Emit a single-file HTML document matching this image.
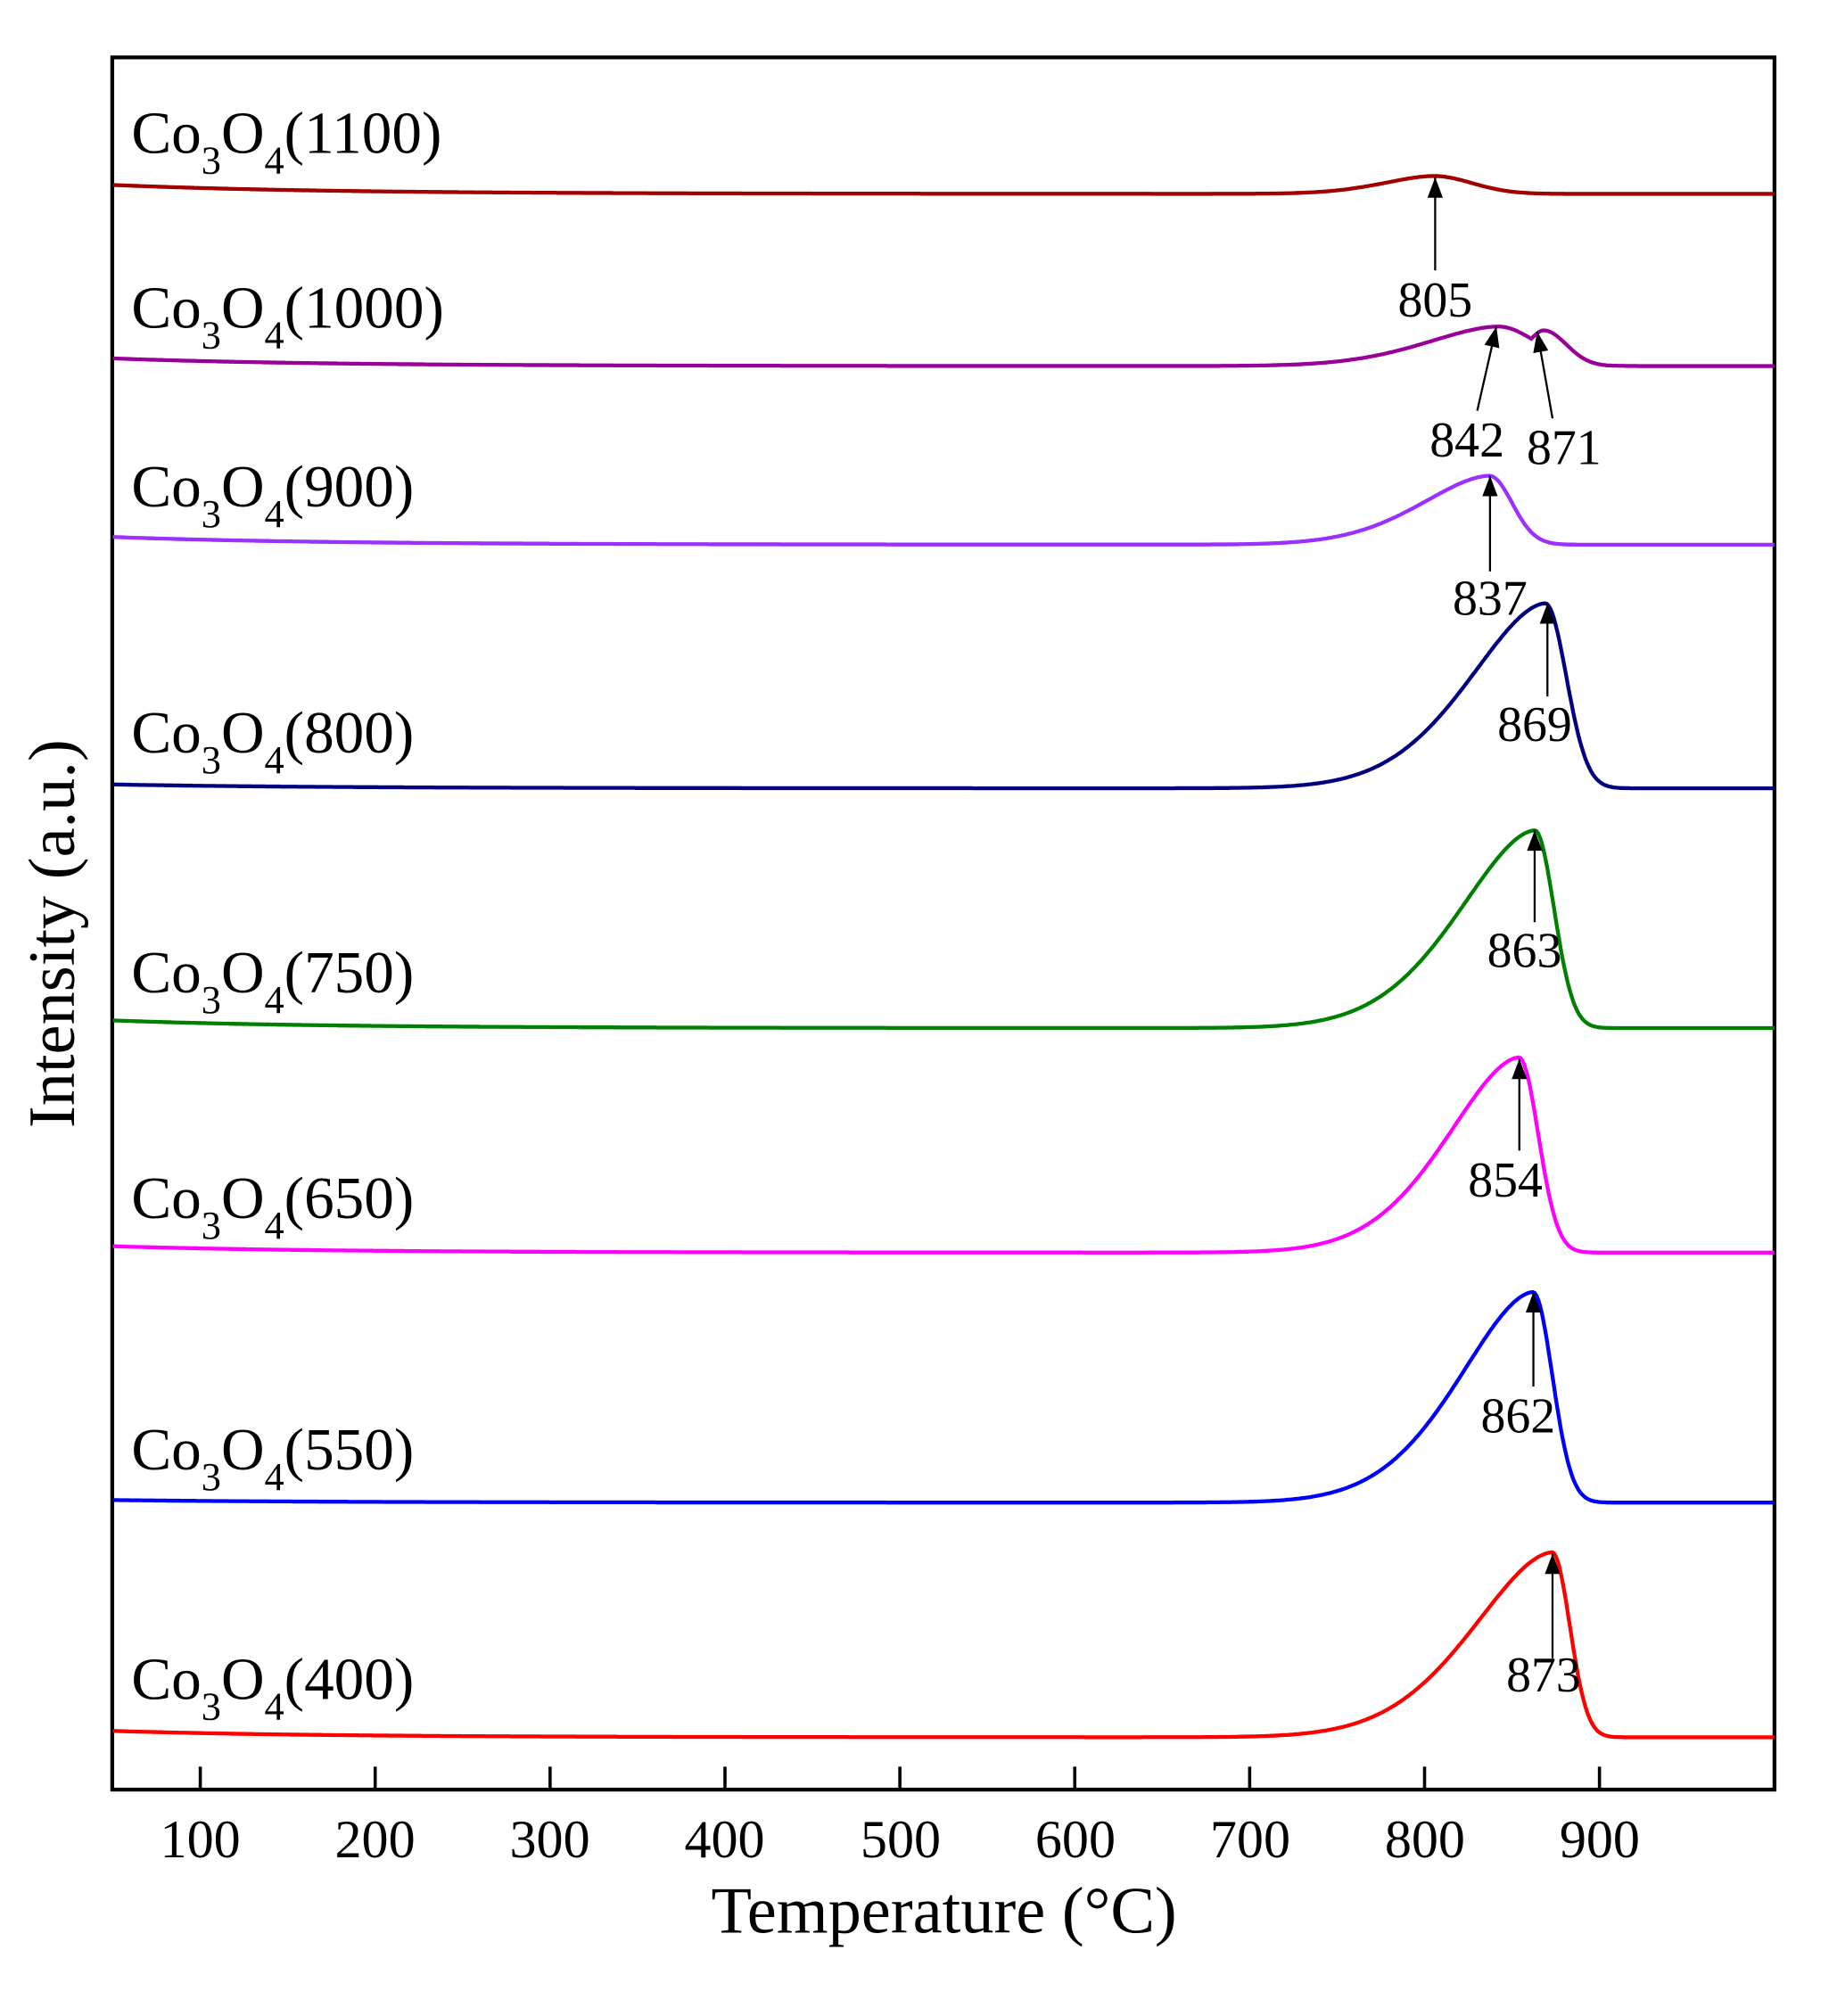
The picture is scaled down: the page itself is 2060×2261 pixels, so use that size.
<!DOCTYPE html>
<html><head><meta charset="utf-8"><style>html,body{margin:0;padding:0;background:#fff}svg{display:block}text{font-family:"Liberation Serif",serif;fill:#000}</style></head>
<body>
<svg id="s" width="2060" height="2261" viewBox="0 0 1440 1580.5" preserveAspectRatio="none" xmlns="http://www.w3.org/2000/svg">
<rect x="88" y="45" width="1303" height="1358" fill="none" stroke="#000" stroke-width="3"/>
<g id="ticks" stroke="#000" stroke-width="2.5"></g>
<g font-size="42" text-anchor="middle">
<text x="157" y="1456">100</text><text x="294" y="1456">200</text><text x="431" y="1456">300</text><text x="568" y="1456">400</text><text x="706" y="1456">500</text><text x="843" y="1456">600</text><text x="980" y="1456">700</text><text x="1117" y="1456">800</text><text x="1254" y="1456">900</text>
</g>
<text x="740" y="1515" font-size="52" text-anchor="middle">Temperature (°C)</text>
<text transform="translate(58,732) rotate(-90)" font-size="52" text-anchor="middle">Intensity (a.u.)</text>
<g id="curves" fill="none" stroke-width="3"></g>
<g font-size="47" id="labels"></g>
<g stroke="#000" stroke-width="1.6" id="arrows"></g>
<g font-size="39" text-anchor="middle">
<text x="1125" y="248">805</text>
<text x="1150" y="358">842</text><text x="1226" y="364">871</text>
<text x="1168" y="482">837</text>
<text x="1203" y="581">869</text>
<text x="1195" y="758">863</text>
<text x="1180" y="938">854</text>
<text x="1190" y="1123">862</text>
<text x="1210" y="1326">873</text>
</g>
</svg>
<script>
var NS="http://www.w3.org/2000/svg";
function X(T){return 157+(T-100)*1.371;}
var tk=document.getElementById("ticks");
for(var t=100;t<=900;t+=100){var l=document.createElementNS(NS,"line");l.setAttribute("x1",X(t));l.setAttribute("x2",X(t));l.setAttribute("y1",1403);l.setAttribute("y2",1385);tk.appendChild(l);}
var S=[
["1100","#a00000",145,152,[[805,14,28,22]],120],
["1000","#990099",281,287,[[842,31,40,22],[868,28,10,13]],257],
["900","#9b30ff",421,427,[[837,54,38,13]],397],
["800","#000080",615,618,[[869,145,42,12]],590],
["750","#008000",800,806,[[863,155,42,11]],778],
["650","#ff00ff",977,982,[[854,153,40,11]],955],
["550","#0000ff",1176,1178,[[862,165,41,11]],1152],
["400","#ff0000",1357,1362,[[873,145,44,10]],1332]];
var cg=document.getElementById("curves"),lg=document.getElementById("labels");
S.forEach(function(s){
 var d="";
 for(var T=50;T<=1000;T+=1){
  var y=s[3]+(s[2]-s[3])*Math.exp(-(T-50)/120);
  var sum=0;
  s[4].forEach(function(p){var sg=T<p[0]?p[2]:p[3];var z=Math.abs(T-p[0])/sg;var e=T<p[0]?1.75:2;var v=p[1]*Math.exp(-0.5*Math.pow(z,e));sum=Math.max(sum,v);});
  y-=sum;
  d+=(T==50?"M":"L")+X(T).toFixed(1)+","+y.toFixed(1);
 }
 var pa=document.createElementNS(NS,"path");pa.setAttribute("d",d);pa.setAttribute("stroke",s[1]);cg.appendChild(pa);
 var tx=document.createElementNS(NS,"text");tx.setAttribute("x",103);tx.setAttribute("y",s[5]);
 tx.innerHTML='Co<tspan font-size="31" dy="16">3</tspan><tspan dy="-16">O</tspan><tspan font-size="31" dy="16">4</tspan><tspan dy="-16">('+s[0]+')</tspan>';
 lg.appendChild(tx);
});
var ag=document.getElementById("arrows");
[[1125,212,1125,139],[1158,322,1173,256],[1217,328,1205,260],[1168,448,1168,373],[1213,546,1213,473],[1203,723,1203,651],[1191,902,1191,830],[1202,1087,1202,1013],[1217,1300,1217,1218]].forEach(function(a){
 var l=document.createElementNS(NS,"line");l.setAttribute("x1",a[0]);l.setAttribute("y1",a[1]);l.setAttribute("x2",a[2]);l.setAttribute("y2",a[3]);ag.appendChild(l);
 var ang=Math.atan2(a[3]-a[1],a[2]-a[0]);var L=16,W=6;
 var bx=a[2]-L*Math.cos(ang),by=a[3]-L*Math.sin(ang);
 var px=-Math.sin(ang)*W,py=Math.cos(ang)*W;
 var p=document.createElementNS(NS,"polygon");p.setAttribute("points",a[2]+","+a[3]+" "+(bx+px)+","+(by+py)+" "+(bx-px)+","+(by-py));p.setAttribute("fill","#000");p.setAttribute("stroke","none");ag.appendChild(p);
});
</script>
</body></html>
